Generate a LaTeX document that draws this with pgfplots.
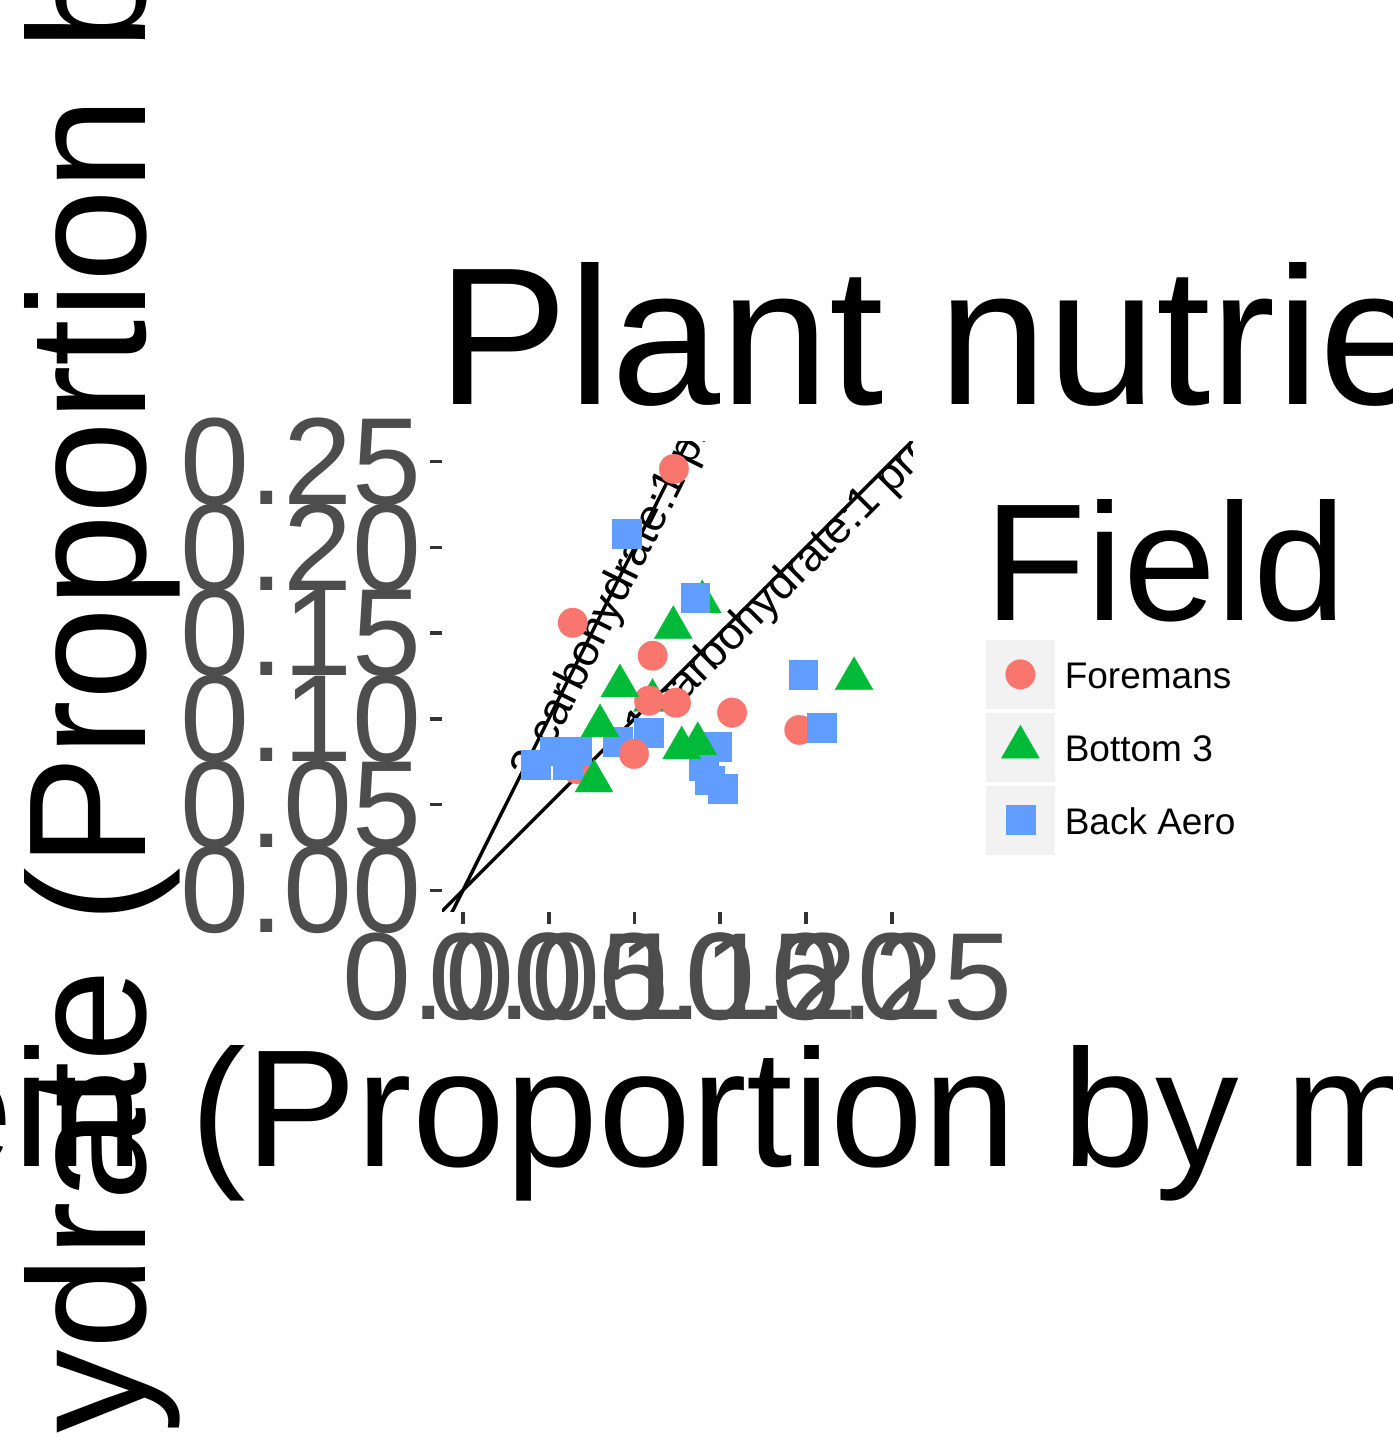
\documentclass[border=0pt]{standalone}
\usepackage{fontspec}
\setmainfont{Liberation Sans}
\usepackage{pgfplots}
\pgfplotsset{compat=1.18}
\definecolor{ggred}{HTML}{F8766D}
\definecolor{gggreen}{HTML}{00BA38}
\definecolor{ggblue}{HTML}{619CFF}
\definecolor{tickgrey}{HTML}{4D4D4D}
\definecolor{tickcol}{HTML}{333333}
\definecolor{keybg}{HTML}{F2F2F2}

\pgfplotstableread{
x y
0.1230 0.2457
0.0640 0.1560
0.1106 0.1368
0.1085 0.1106
0.1242 0.1094
0.1569 0.1036
0.1961 0.0935
0.0665 0.0707
}\redmain
\pgfplotstableread{
x y
0.0997 0.0795
}\redtop
\pgfplotstableread{
x y
0.1395 0.1682
0.1105 0.1107
}\greenlow
\pgfplotstableread{
x y
0.1226 0.1532
0.0915 0.1192
0.0799 0.0959
0.0764 0.0637
0.1275 0.0830
0.1369 0.0854
0.2280 0.1234
}\greenmain
\pgfplotstableread{
x y
0.0955 0.2079
0.1353 0.1708
0.1983 0.1259
0.2093 0.0948
0.0900 0.0869
0.1080 0.0920
0.1481 0.0838
0.1401 0.0728
0.1436 0.0643
0.1512 0.0591
0.0424 0.0735
0.0532 0.0812
0.0662 0.0812
0.0610 0.0731
}\bluemain

\pgfplotsset{
  redpt/.style={only marks, mark=*, mark size=7.4pt, color=ggred, mark options={line width=0.1pt}},
  greenpt/.style={only marks, mark=triangle*, mark size=11pt, color=gggreen, mark options={line width=0.1pt}},
  bluept/.style={only marks, mark=square*, mark size=7.2pt, color=ggblue, mark options={line width=0.1pt}},
}

\begin{document}
\begin{tikzpicture}
\useasboundingbox (0,0) rectangle (696.5pt,718.5pt);
\clip (0,0) rectangle (696.5pt,718.5pt);
\begin{axis}[
  at={(221pt,262.5pt)}, anchor=south west,
  width=235.35pt, height=235.15pt, scale only axis,
  xmin=-0.01224, xmax=0.2622, ymin=-0.01265, ymax=0.2616,
  axis line style={draw=none},
  xtick={0,0.05,0.1,0.15,0.2,0.25},
  ytick={0,0.05,0.1,0.15,0.2,0.25},
  xticklabels={0.00,0.05,0.10,0.15,0.20,0.25},
  yticklabels={0.00,0.05,0.10,0.15,0.20,0.25},
  xtick pos=bottom, ytick pos=left,
  tick align=outside, major tick length=6pt,
  tick style={draw=tickcol, line width=1.8pt},
  tick label style={font=\fontsize{62}{74}\selectfont, text=tickgrey, inner sep=0pt},
  xticklabel style={anchor=north, yshift=-4.5pt},
  yticklabel style={anchor=east, xshift=-4pt},
  legend style={draw=none, fill=none, inner sep=0pt, outer sep=0pt,
    at={(1.1557,0.5784)}, anchor=north west, row sep=2pt,
    font=\fontsize{18.5}{22}\selectfont, nodes={inner sep=0pt},
    /tikz/every odd column/.append style={column sep=5pt}},
  legend cell align=left,
  legend image code/.code={\fill[keybg] (0pt,-15.75pt) rectangle (34pt,18.25pt);
    \draw[#1] plot coordinates {(17pt,1.25pt)};},
]
\addlegendimage{redpt}
\addlegendentry{Foremans}
\addlegendimage{greenpt}
\addlegendentry{Bottom 3}
\addlegendimage{bluept}
\addlegendentry{Back Aero}

\addplot[forget plot, greenpt] table {\greenlow};
\addplot[forget plot, redpt] table {\redmain};
\addplot[forget plot, bluept] table {\bluemain};
\addplot[forget plot, redpt] table {\redtop};
\addplot[forget plot, greenpt] table {\greenmain};

\addplot[forget plot, black, line width=1.7pt] coordinates {(-0.05,-0.05) (0.3,0.3)};
\addplot[forget plot, black, line width=1.7pt] coordinates {(-0.025,-0.05) (0.15,0.3)};

\node[rotate=63.43, anchor=base west, inner sep=0pt, font=\fontsize{22.6}{27}\selectfont] at (axis cs:0.0420,0.0627) {2 carbohydrate:1 protein};
\node[rotate=45, anchor=base west, inner sep=0pt, font=\fontsize{22.6}{27}\selectfont] at (axis cs:0.1044,0.0853) {1 carbohydrate:1 protein};
\end{axis}
\node[anchor=base west, inner sep=0pt, font=\fontsize{98}{118}\selectfont] at (218.5pt,516pt) {Plant nutrient content};
\node[anchor=base, inner sep=0pt, font=\fontsize{83.5}{100}\selectfont] at (338.7pt,135pt) {Protein (Proportion by mass)};
\node[anchor=base, rotate=90, inner sep=0pt, font=\fontsize{83.5}{100}\selectfont] at (72.5pt,380pt) {Carbohydrate (Proportion by mass)};
\node[anchor=base west, inner sep=0pt, font=\fontsize{83.5}{100}\selectfont] at (492pt,408.2pt) {Field};
\end{tikzpicture}
\end{document}
